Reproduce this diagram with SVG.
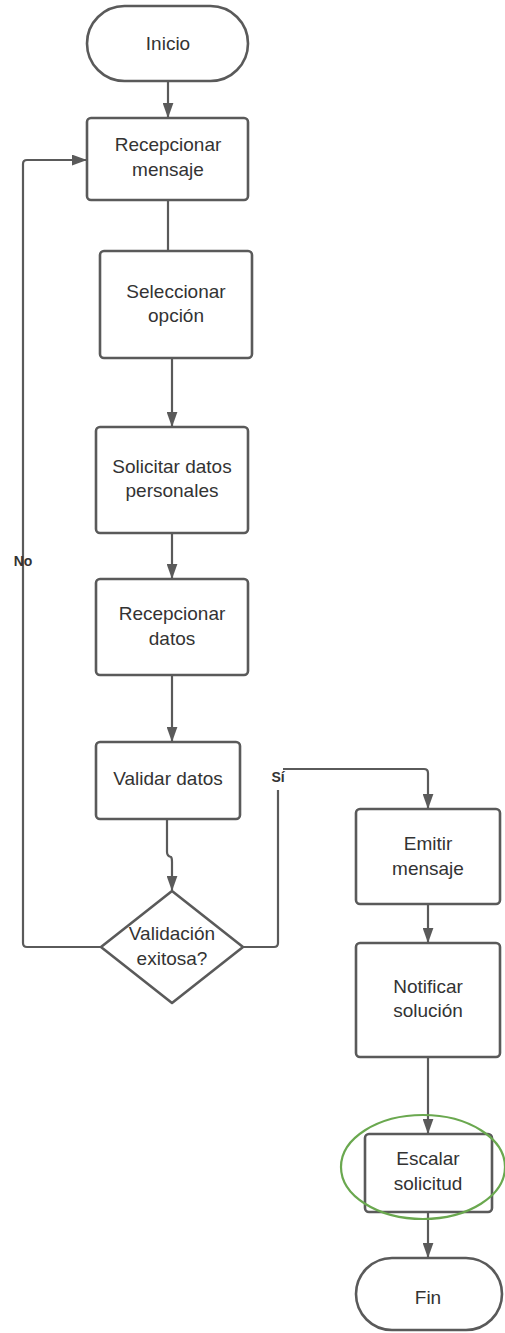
<svg xmlns="http://www.w3.org/2000/svg" width="505" height="1333" viewBox="0 0 505 1333">
  <style>
    .shape { fill: #ffffff; stroke: #5a5a5a; stroke-width: 2.6; }
    .wire { fill: none; stroke: #5a5a5a; stroke-width: 2.2; }
    .label { font-family: "Liberation Sans", Arial, sans-serif; font-size: 19px; fill: #333333; text-anchor: middle; }
    .tag { font-family: "Liberation Sans", Arial, sans-serif; font-size: 14px; font-weight: bold; fill: #333333; text-anchor: middle; }
  </style>
  <defs>
    <marker id="arrow" viewBox="0 0 14 10" refX="13" refY="5" markerWidth="7" markerHeight="5" markerUnits="strokeWidth" orient="auto">
      <path d="M0,0 L14,5 L0,10 Z" fill="#5a5a5a"/>
    </marker>
  </defs>
  <rect width="505" height="1333" fill="#ffffff"/>

  <!-- connectors -->
  <g id="connectors">
    <path class="wire" d="M168,81 V117" marker-end="url(#arrow)"/>
    <path class="wire" d="M168,200 V251"/>
    <path class="wire" d="M172,358 V426" marker-end="url(#arrow)"/>
    <path class="wire" d="M172,533 V578" marker-end="url(#arrow)"/>
    <path class="wire" d="M172,675 V741" marker-end="url(#arrow)"/>
    <path class="wire" d="M167,819 V852 Q167,856 171,857 Q172,858 172,862 V890" marker-end="url(#arrow)"/>
    <!-- No branch back to the first step -->
    <path class="wire" d="M101,947 H27 Q23,947 23,943 V164 Q23,160 27,160 H86" marker-end="url(#arrow)"/>
    <text class="tag" x="23" y="566">No</text>
    <!-- Sí branch -->
    <path class="wire" d="M243,947 H274 Q278,947 278,943 V790"/>
    <path class="wire" d="M283,769 H424 Q428,769 428,773 V808" marker-end="url(#arrow)"/>
    <text class="tag" x="278" y="782">Sí</text>
    <path class="wire" d="M428,904 V942" marker-end="url(#arrow)"/>
    <path class="wire" d="M428,1057 V1133" marker-end="url(#arrow)"/>
    <path class="wire" d="M428,1212 V1257" marker-end="url(#arrow)"/>
  </g>

  <g id="inicio">
    <rect class="shape" x="87" y="6" width="161" height="75" rx="37.5"/>
    <text class="label" x="168" y="50">Inicio</text>
  </g>
  <g id="recepcionar-mensaje">
    <rect class="shape" x="87" y="118" width="161" height="82" rx="4"/>
    <text class="label" x="168" y="151">Recepcionar</text>
    <text class="label" x="168" y="176">mensaje</text>
  </g>
  <g id="seleccionar-opcion">
    <rect class="shape" x="100" y="251" width="152" height="107" rx="4"/>
    <text class="label" x="176" y="298">Seleccionar</text>
    <text class="label" x="176" y="322">opción</text>
  </g>
  <g id="solicitar-datos">
    <rect class="shape" x="96" y="427" width="152" height="106" rx="4"/>
    <text class="label" x="172" y="473">Solicitar datos</text>
    <text class="label" x="172" y="497">personales</text>
  </g>
  <g id="recepcionar-datos">
    <rect class="shape" x="96" y="579" width="152" height="96" rx="4"/>
    <text class="label" x="172" y="620">Recepcionar</text>
    <text class="label" x="172" y="645">datos</text>
  </g>
  <g id="validar-datos">
    <rect class="shape" x="96" y="742" width="144" height="77" rx="4"/>
    <text class="label" x="168" y="785">Validar datos</text>
  </g>
  <g id="validacion-exitosa">
    <path class="shape" d="M172,891 L243,947 L172,1003 L101,947 Z" stroke-linejoin="round"/>
    <text class="label" x="172" y="940">Validación</text>
    <text class="label" x="172" y="965">exitosa?</text>
  </g>
  <g id="emitir-mensaje">
    <rect class="shape" x="356" y="809" width="144" height="95" rx="4"/>
    <text class="label" x="428" y="850">Emitir</text>
    <text class="label" x="428" y="875">mensaje</text>
  </g>
  <g id="notificar-solucion">
    <rect class="shape" x="356" y="943" width="144" height="114" rx="4"/>
    <text class="label" x="428" y="993">Notificar</text>
    <text class="label" x="428" y="1017">solución</text>
  </g>
  <g id="escalar-solicitud">
    <rect class="shape" x="365" y="1134" width="127" height="78" rx="4"/>
    <text class="label" x="428" y="1165">Escalar</text>
    <text class="label" x="428" y="1190">solicitud</text>
  </g>
  <g id="highlight">
    <ellipse cx="423" cy="1167" rx="82" ry="52" fill="none" stroke="#6aa84f" stroke-width="2.2"/>
  </g>
  <g id="fin">
    <rect class="shape" x="356" y="1258" width="146" height="72" rx="36"/>
    <text class="label" x="428" y="1304">Fin</text>
  </g>
</svg>
